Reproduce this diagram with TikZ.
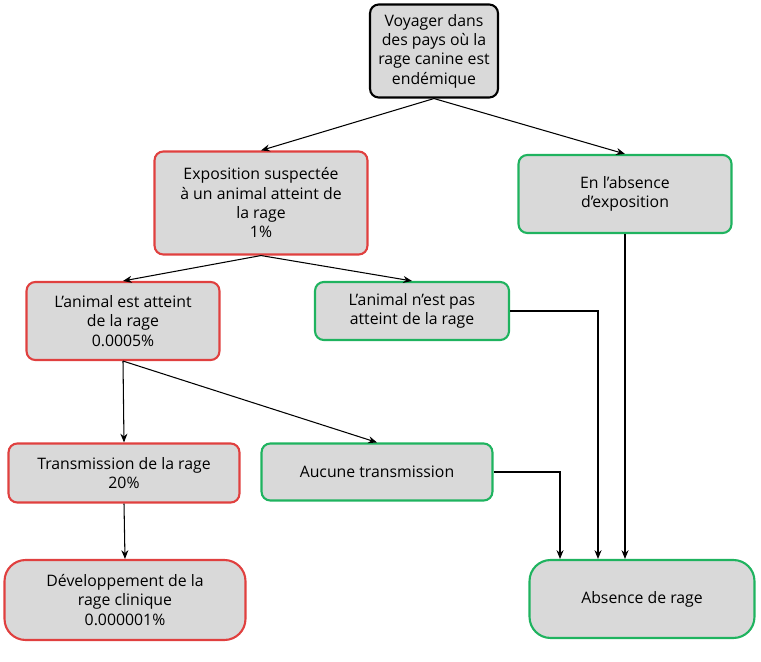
\documentclass[tikz,border=0pt]{standalone}
\usepackage{fontspec}
\setmainfont{Open Sans}
\usetikzlibrary{positioning,arrows.meta}
\definecolor{boxgray}{HTML}{D9D9D9}
\definecolor{redline}{HTML}{E0403F}
\definecolor{greenline}{HTML}{1FB35F}
\begin{document}
\begin{tikzpicture}[x=0.02cm,y=-0.02cm,
    box/.style={draw, line width=1.2pt, fill=boxgray, rounded corners=5pt, align=center, font=\small, inner sep=2pt},
    bad/.style={box, draw=redline},
    good/.style={box, draw=greenline},
    arr/.style={-{Stealth[length=5pt,width=4pt]}, line width=0.6pt}]
    \useasboundingbox (0,0) rectangle (761,662);

    \node[box, draw=black, minimum width=2.56cm, minimum height=1.86cm] (voyage) at (434,51) {Voyager dans\\des pays où la\\rage canine est\\endémique};
    \node[bad, minimum width=4.26cm, minimum height=2.06cm] (expo) at (261,203) {Exposition suspectée\\à un animal atteint de\\la rage\\1\%};
    \node[good, minimum width=4.26cm, minimum height=1.56cm] (noexpo) at (625,194) {En l’absence\\d’exposition};
    \node[bad, minimum width=3.86cm, minimum height=1.56cm] (atteint) at (123,321) {L’animal est atteint\\de la rage\\0.0005\%};
    \node[good, minimum width=3.88cm, minimum height=1.16cm] (pasatteint) at (412,311) {L’animal n’est pas\\atteint de la rage};
    \node[bad, minimum width=4.62cm, minimum height=1.18cm] (transm) at (124,473) {Transmission de la rage\\20\%};
    \node[good, minimum width=4.62cm, minimum height=1.14cm] (aucune) at (377,472) {Aucune transmission};
    \node[bad, rounded corners=12pt, minimum width=4.82cm, minimum height=1.6cm] (clinique) at (125,600) {Développement de la\\rage clinique\\0.000001\%};
    \node[good, rounded corners=12pt, minimum width=4.5cm, minimum height=1.56cm] (absence) at (642,599) {Absence de rage};

    \draw[arr] (voyage.south) -- (expo.north);
    \draw[arr] (voyage.south) -- (noexpo.north);
    \draw[arr] (expo.south) -- (atteint.north);
    \draw[arr] (expo.south) -- (pasatteint.north);
    \draw[arr] (atteint.south) -- (transm.north);
    \draw[arr] (atteint.south) -- (aucune.north);
    \draw[arr] (transm.south) -- (clinique.north);
    \draw[arr] (aucune.east) -| ([xshift=-1.64cm]absence.north);
    \draw[arr] (pasatteint.east) -| ([xshift=-0.88cm]absence.north);
    \draw[arr] (noexpo.south) -- (noexpo.south |- absence.north);
\end{tikzpicture}
\end{document}
